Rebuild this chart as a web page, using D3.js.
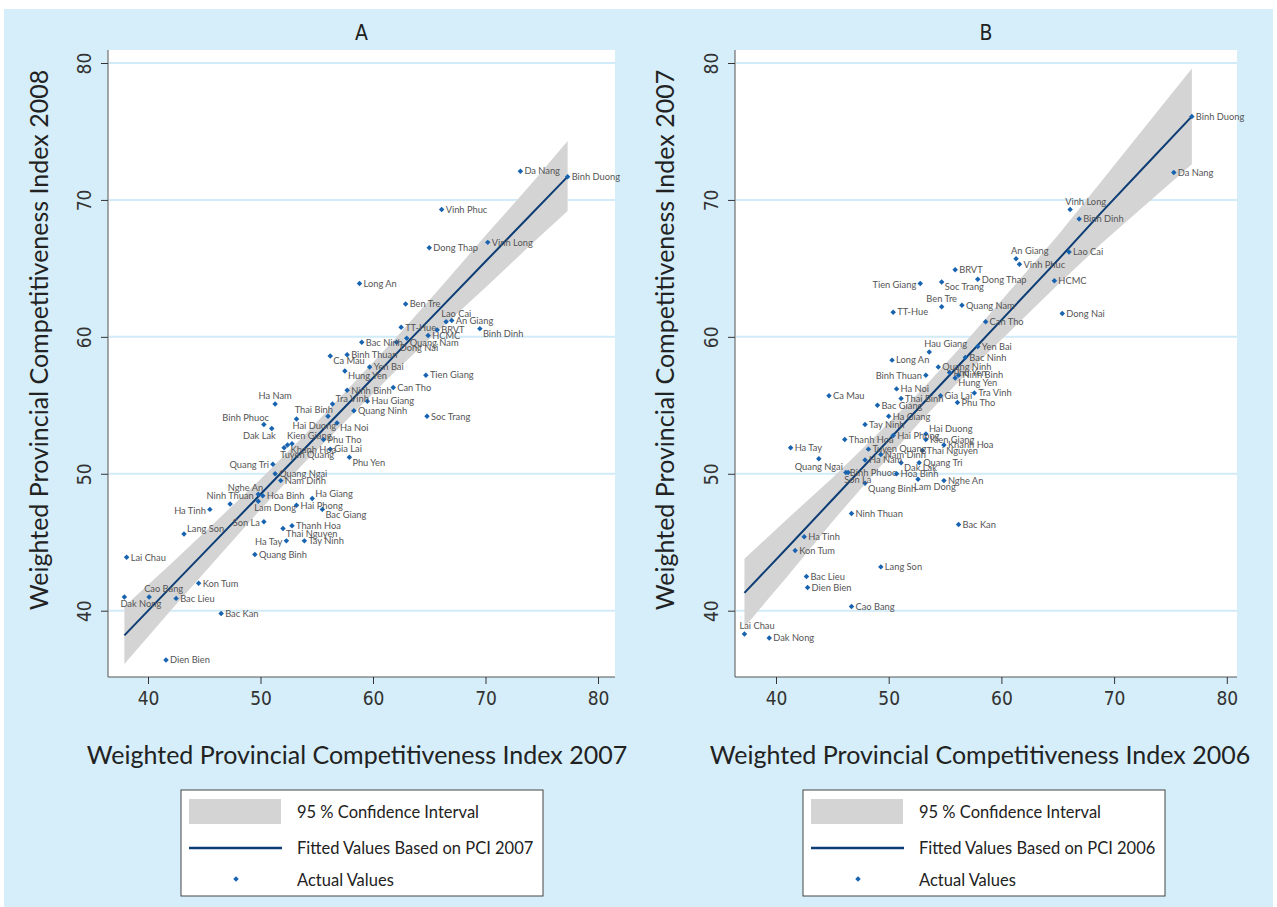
<!DOCTYPE html>
<html>
<head>
<meta charset="utf-8">
<script src="https://cdnjs.cloudflare.com/ajax/libs/d3/7.8.5/d3.min.js"></script>
<style>
  body { margin: 0; background: #fff; }
  .tick text { font-family: "Liberation Sans Narrow", "DejaVu Sans Condensed", sans-serif; }
</style>
</head>
<body>
<script>

// Provinces (same order in both panels)
var provinces = ["Da Nang","Binh Duong","Vinh Phuc","Vinh Long","Dong Thap","Long An","Ben Tre","Lao Cai","An Giang","TT-Hue",
  "BRVT","Binh Dinh","HCMC","Quang Nam","Bac Ninh","Dong Nai","Binh Thuan","Ca Mau","Yen Bai","Hung Yen",
  "Tien Giang","Ninh Binh","Can Tho","Tra Vinh","Hau Giang","Quang Ninh","Soc Trang","Ha Noi","Phu Tho","Gia Lai",
  "Phu Yen","Ha Nam","Thai Binh","Binh Phuoc","Dak Lak","Hai Duong","Kien Giang","Khanh Hoa","Tuyen Quang","Quang Tri",
  "Quang Ngai","Nam Dinh","Nghe An","Hoa Binh","Lam Dong","Ninh Thuan","Ha Giang","Hai Phong","Bac Giang","Ha Tinh",
  "Son La","Thanh Hoa","Thai Nguyen","Lang Son","Ha Tay","Tay Ninh","Quang Binh","Lai Chau","Kon Tum","Dak Nong",
  "Cao Bang","Bac Lieu","Bac Kan","Dien Bien"];

// Panel A: PCI 2007 (x) vs PCI 2008 (y)
var pciA_x = [73.1,77.3,66.1,70.2,65.0,58.8,62.9,66.5,67.0,62.5,
  65.7,69.5,64.9,63.0,59.0,62.1,57.7,56.2,59.7,57.5,
  64.7,57.7,61.8,56.4,59.5,58.3,64.8,56.8,55.6,56.2,
  57.9,51.3,56.0,50.3,51.0,53.2,52.8,52.4,52.1,51.1,
  51.3,51.8,49.8,50.2,49.8,47.3,54.6,53.2,55.5,45.5,
  50.3,52.8,52.0,43.2,52.3,53.9,49.5,38.1,44.5,37.9,
  40.1,42.5,46.5,41.6];
var pciA_y = [72.1,71.7,69.3,66.9,66.5,63.9,62.4,61.1,61.2,60.7,
  60.5,60.6,60.1,59.9,59.6,59.6,58.7,58.6,57.8,57.5,
  57.2,56.1,56.3,55.1,55.3,54.6,54.2,53.7,52.5,51.8,
  51.2,55.1,54.2,53.6,53.3,54.0,52.2,52.1,51.9,50.7,
  50.0,49.5,48.5,48.4,48.0,47.8,48.2,47.7,47.4,47.4,
  46.5,46.2,46.0,45.6,45.1,45.1,44.1,43.9,42.0,41.0,
  41.0,40.9,39.8,36.4];

// Panel B: PCI 2006 (x) vs PCI 2007 (y)
var pciB_x = [75.3,76.9,61.6,66.1,57.9,50.3,54.7,66.0,61.3,50.4,
  55.9,66.9,64.7,56.5,56.8,65.4,53.3,44.7,57.9,55.9,
  52.8,56.2,58.6,57.6,53.6,54.4,54.7,50.7,56.1,54.6,
  55.4,47.9,51.1,46.2,51.1,53.3,53.3,54.9,48.2,52.7,
  43.8,49.3,54.9,50.7,52.6,46.7,50.0,50.4,49.0,42.5,
  46.4,46.1,53.0,49.3,41.3,47.9,47.9,37.2,41.7,39.4,
  46.7,42.7,56.2,42.8];
var pciB_y = [72.0,76.1,65.3,69.3,64.2,58.3,62.2,66.2,65.7,61.8,
  64.9,68.6,64.1,62.3,58.5,61.7,57.2,55.7,59.3,57.0,
  63.9,57.2,61.1,55.9,58.9,57.8,64.0,56.2,55.2,55.7,
  57.4,51.0,55.5,50.1,50.8,52.9,52.5,52.1,51.8,50.8,
  51.1,51.4,49.5,50.0,49.6,47.1,54.2,52.8,55.0,45.4,
  50.1,52.5,51.7,43.2,51.9,53.6,49.3,38.3,44.4,38.0,
  40.3,42.5,46.3,41.7];

// Fitted values and 95% CI
var fitA_x  = [37.9,42,46,50,54,58,62,66,70,74,77.3];
var fitA_y  = [38.2,41.7,45.1,48.5,51.9,55.3,58.7,62.1,65.5,68.9,71.7];
var fitA_lo = [36.1,40.0,43.7,47.4,50.9,54.2,57.5,60.6,63.6,66.7,69.2];
var fitA_hi = [40.3,43.4,46.5,49.6,52.9,56.4,59.9,63.6,67.4,71.1,74.3];

var fitB_x  = [37.2,41,45,49,53,57,61,65,69,73,76.9];
var fitB_y  = [41.3,44.6,48.1,51.6,55.1,58.6,62.1,65.6,69.2,72.7,76.1];
var fitB_lo = [38.8,42.5,46.5,50.3,54.0,57.4,60.6,63.8,66.9,69.8,72.6];
var fitB_hi = [43.8,46.7,49.7,52.9,56.2,59.8,63.6,67.4,71.5,75.6,79.6];

var ticks = [40,50,60,70,80];

// label clock positions (3 o'clock is default)
var labPosA = {"Lao Cai":1,"Binh Dinh":4,"Quang Nam":4,"Dong Nai":4,"Ca Mau":4,"Hung Yen":4,"Tra Vinh":2,
  "Ha Noi":4,"Phu Yen":4,"Ha Nam":12,"Thai Binh":11,"Binh Phuoc":11,"Dak Lak":7,"Hai Duong":5,"Kien Giang":1,
  "Khanh Hoa":4,"Tuyen Quang":5,"Quang Tri":9,"Nghe An":11,"Lam Dong":5,"Ninh Thuan":12,"Ha Tinh":9,
  "Ha Giang":2,"Bac Giang":4,"Son La":9,"Thai Nguyen":4,"Lang Son":2,"Ha Tay":9,"Cao Bang":1,"Dak Nong":5};
var labPosB = {"Vinh Long":1,"An Giang":1,"Tien Giang":9,"Soc Trang":4,"Ben Tre":12,"Hau Giang":1,"Hung Yen":4,
  "Binh Thuan":9,"Hai Duong":2,"Quang Ngai":6,"Dak Lak":4,"Son La":5,"Lam Dong":5,"Quang Binh":4,"Lai Chau":1};

var clock = {
  1:  {anchor: "start",  dx: -5, dy: -8},
  2:  {anchor: "start",  dx: 3,  dy: -5},
  3:  {anchor: "start",  dx: 4,  dy: 0},
  4:  {anchor: "start",  dx: 3,  dy: 5},
  5:  {anchor: "start",  dx: -4, dy: 7},
  6:  {anchor: "middle", dx: 0,  dy: 8},
  7:  {anchor: "end",    dx: 4,  dy: 7},
  9:  {anchor: "end",    dx: -4, dy: 1},
  11: {anchor: "end",    dx: 5,  dy: -7},
  12: {anchor: "middle", dx: 0,  dy: -8}
};

var width = 1277, height = 907;
var bgColor = "#d5eef9";
var gridColor = "#d2ebf8";
var dotColor = "#1763b0";
var lineColor = "#0d3d74";
var bandColor = "#d4d4d4";
var textFont = "Lato, 'Open Sans', sans-serif";
var narrowFont = "'Liberation Sans Narrow', 'DejaVu Sans Condensed', sans-serif";

// small diamond marker (square turned 45 degrees)
var marker = d3.symbol().type(d3.symbolSquare).size(15);

var svg = d3.select("body").append("svg")
  .attr("width", width)
  .attr("height", height);

svg.append("rect")
  .attr("x", 4).attr("y", 9)
  .attr("width", width - 8).attr("height", height - 9)
  .attr("fill", bgColor);

function drawPanel(opt) {
  var g = svg.append("g");
  var left = opt.left, right = opt.right, top = 50, bottom = 677;

  // scales anchored on the tick positions
  var x = d3.scaleLinear().domain([40, 80]).range(opt.xRange);
  var y = d3.scaleLinear().domain([40, 80]).range([610.7, 63]);

  // plot area
  g.append("rect")
    .attr("x", left).attr("y", top)
    .attr("width", right - left).attr("height", bottom - top)
    .attr("fill", "#fff");

  // horizontal grid
  g.selectAll(".grid")
    .data(ticks)
    .enter()
    .append("line")
    .attr("x1", left + 1).attr("x2", right)
    .attr("y1", function(d) { return y(d); })
    .attr("y2", function(d) { return y(d); })
    .attr("stroke", gridColor)
    .attr("stroke-width", 2);

  // confidence band
  var band = d3.area()
    .x(function(d, i) { return x(opt.fx[i]); })
    .y0(function(d, i) { return y(opt.lo[i]); })
    .y1(function(d, i) { return y(opt.hi[i]); });
  g.append("path")
    .attr("d", band(opt.fx))
    .attr("fill", bandColor);

  // fitted line
  var line = d3.line()
    .x(function(d, i) { return x(opt.fx[i]); })
    .y(function(d, i) { return y(opt.fy[i]); });
  g.append("path")
    .attr("d", line(opt.fx))
    .attr("fill", "none")
    .attr("stroke", lineColor)
    .attr("stroke-width", 2);

  // axes
  var xAxis = d3.axisBottom(x).tickValues(ticks).tickSize(7).tickPadding(8);
  var gx = g.append("g")
    .attr("transform", "translate(0," + bottom + ")")
    .call(xAxis);
  gx.select(".domain").attr("d", "M" + left + ",0H" + right).attr("stroke", "#555");
  gx.selectAll(".tick line").attr("stroke", "#333");
  gx.selectAll(".tick text")
    .attr("font-size", 19)
    .attr("fill", "#333");

  var yAxis = d3.axisLeft(y).tickValues(ticks).tickSize(7).tickPadding(4);
  var gy = g.append("g")
    .attr("transform", "translate(" + left + ",0)")
    .call(yAxis);
  gy.select(".domain").attr("d", "M0," + top + "V" + bottom).attr("stroke", "#555");
  gy.selectAll(".tick line").attr("stroke", "#333");
  gy.selectAll(".tick text")
    .attr("font-size", 19)
    .attr("fill", "#333")
    .attr("text-anchor", "middle")
    .attr("transform", "rotate(-90)")
    .attr("x", 0)
    .attr("y", -17)
    .attr("dy", "0");

  // points
  var pts = opt.px.map(function(v, i) { return {name: provinces[i], x: v, y: opt.py[i]}; });
  g.selectAll(".pt")
    .data(pts)
    .enter()
    .append("path")
    .attr("d", marker)
    .attr("transform", function(d) { return "translate(" + x(d.x) + "," + y(d.y) + ") rotate(45)"; })
    .attr("fill", dotColor);

  g.selectAll(".lab")
    .data(pts)
    .enter()
    .append("text")
    .attr("x", function(d) { return x(d.x) + clock[opt.pos[d.name] || 3].dx; })
    .attr("y", function(d) { return y(d.y) + clock[opt.pos[d.name] || 3].dy; })
    .attr("dy", "0.35em")
    .attr("text-anchor", function(d) { return clock[opt.pos[d.name] || 3].anchor; })
    .attr("font-family", textFont)
    .attr("font-size", 9.3)
    .attr("fill", "#555")
    .text(function(d) { return d.name; });

  // panel title
  g.append("text")
    .attr("x", (left + right) / 2).attr("y", 40)
    .attr("text-anchor", "middle")
    .attr("font-family", narrowFont)
    .attr("font-size", 21)
    .attr("fill", "#222")
    .text(opt.title);

  // axis titles
  g.append("text")
    .attr("x", opt.xTitleX).attr("y", 764)
    .attr("text-anchor", "middle")
    .attr("font-family", textFont)
    .attr("font-size", 25)
    .attr("fill", "#222")
    .text(opt.xTitle);

  g.append("text")
    .attr("transform", "translate(" + opt.yTitleX + ",340) rotate(-90)")
    .attr("text-anchor", "middle")
    .attr("font-family", textFont)
    .attr("font-size", 25)
    .attr("fill", "#222")
    .text(opt.yTitle);

  // legend
  var lx = opt.legendX, ly = 790;
  var key = g.append("g").attr("transform", "translate(" + lx + "," + ly + ")");
  key.append("rect")
    .attr("width", 362).attr("height", 106)
    .attr("fill", "#fff")
    .attr("stroke", "#444")
    .attr("stroke-width", 1);
  key.append("rect")
    .attr("x", 8).attr("y", 9)
    .attr("width", 92).attr("height", 25)
    .attr("fill", bandColor);
  key.append("line")
    .attr("x1", 8).attr("x2", 101)
    .attr("y1", 58).attr("y2", 58)
    .attr("stroke", lineColor)
    .attr("stroke-width", 2.5);
  key.append("path")
    .attr("d", marker)
    .attr("transform", "translate(55,89) rotate(45)")
    .attr("fill", dotColor);
  var items = ["95 % Confidence Interval", opt.fitLabel, "Actual Values"];
  key.selectAll(".item")
    .data(items)
    .enter()
    .append("text")
    .attr("x", 116)
    .attr("y", function(d, i) { return [22, 58, 90][i]; })
    .attr("dy", "0.35em")
    .attr("font-family", textFont)
    .attr("font-size", 16.5)
    .attr("fill", "#222")
    .text(function(d) { return d; });
}

drawPanel({
  title: "A", left: 108, right: 615, xRange: [148, 598],
  px: pciA_x, py: pciA_y, pos: labPosA,
  fx: fitA_x, fy: fitA_y, lo: fitA_lo, hi: fitA_hi,
  xTitle: "Weighted Provincial Competitiveness Index 2007", xTitleX: 357,
  yTitle: "Weighted Provincial Competitiveness Index 2008", yTitleX: 48,
  legendX: 181, fitLabel: "Fitted Values Based on PCI 2007"
});

drawPanel({
  title: "B", left: 735, right: 1237, xRange: [776, 1226.8],
  px: pciB_x, py: pciB_y, pos: labPosB,
  fx: fitB_x, fy: fitB_y, lo: fitB_lo, hi: fitB_hi,
  xTitle: "Weighted Provincial Competitiveness Index 2006", xTitleX: 980,
  yTitle: "Weighted Provincial Competitiveness Index 2007", yTitleX: 674,
  legendX: 803, fitLabel: "Fitted Values Based on PCI 2006"
});

</script>
</body>
</html>
